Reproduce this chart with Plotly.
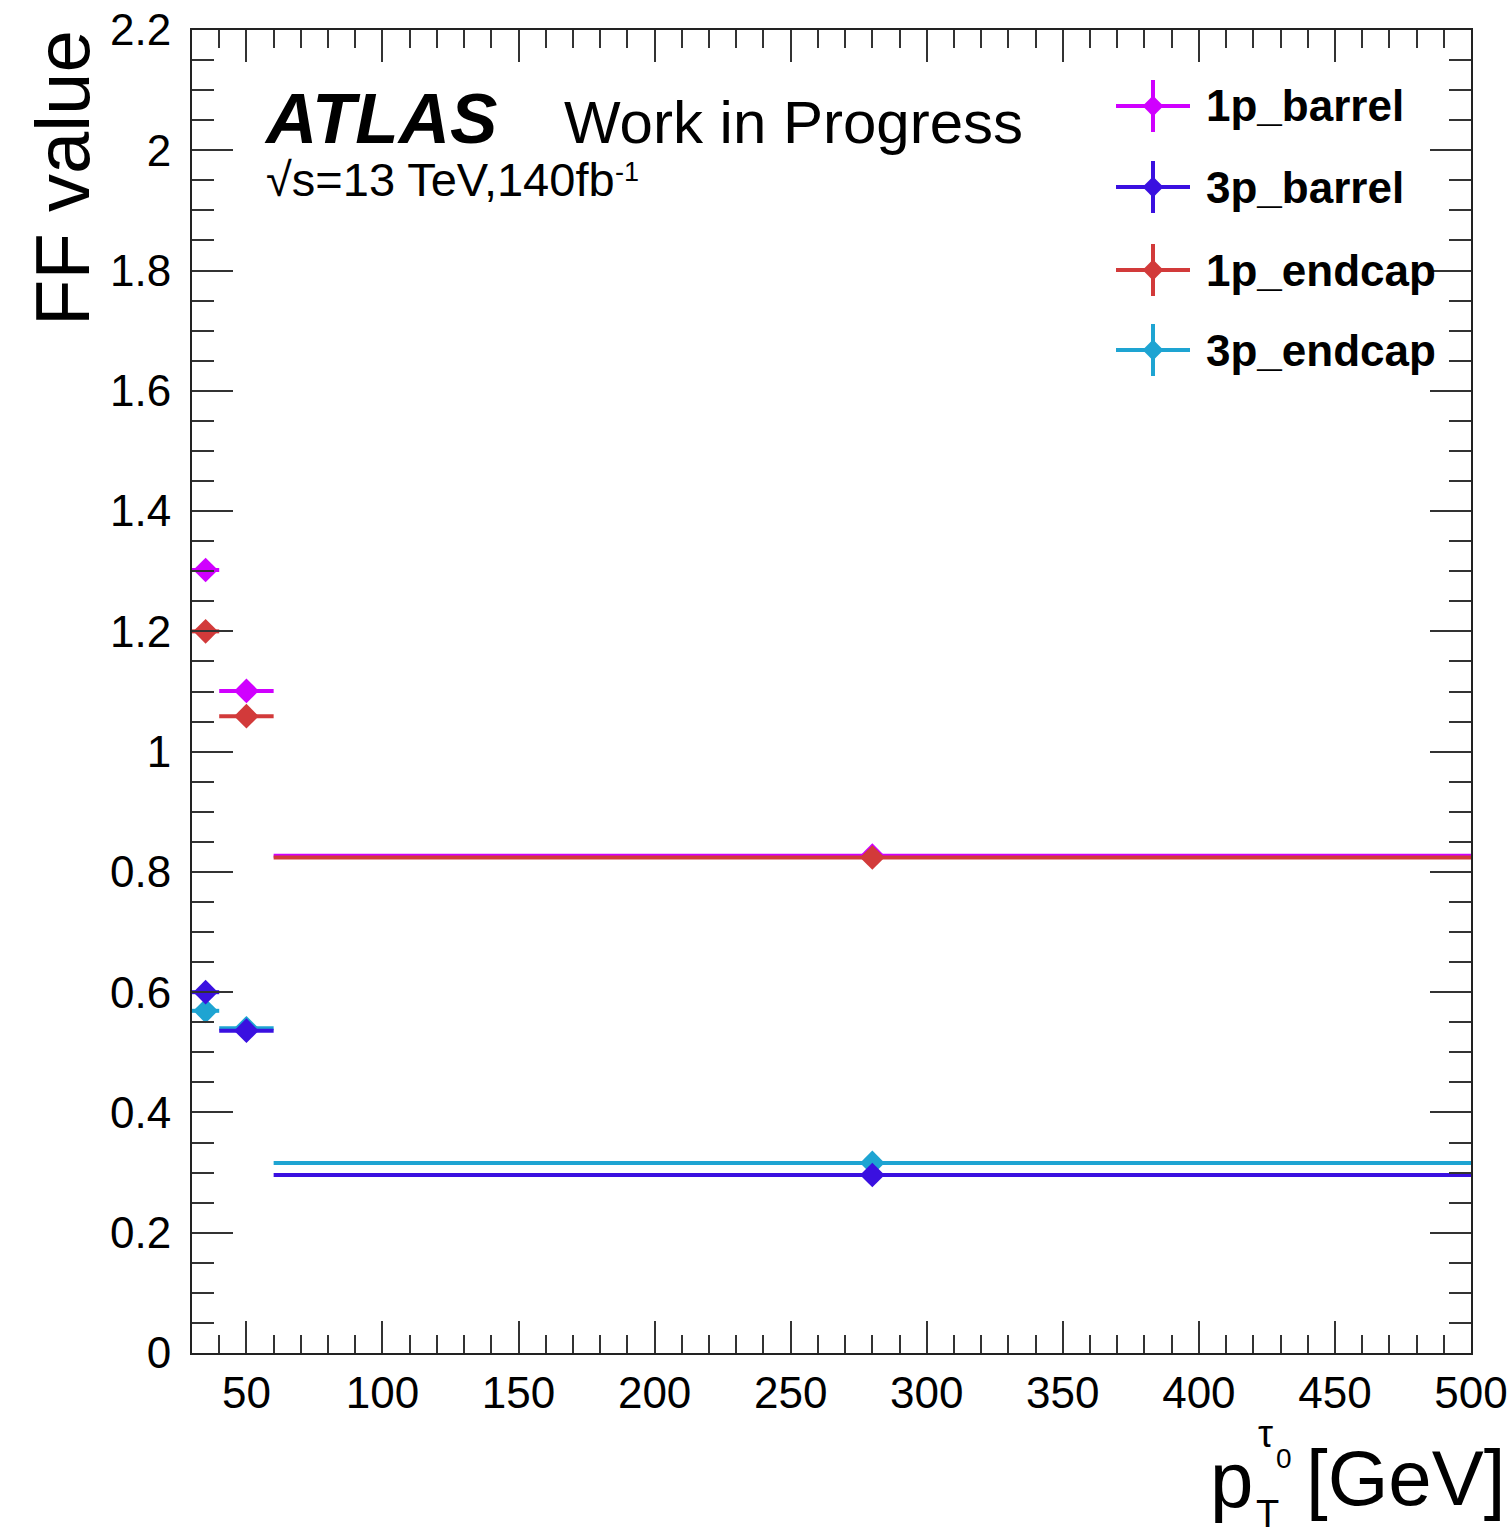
import plotly.graph_objects as go

# pT bins of the leading tau (GeV): centres and half-widths
bin_centers = [35, 50, 280]
bin_halfwidths = [5, 10, 220]

# Fake-factor values per category
ff_1p_barrel = [1.302, 1.101, 0.827]
ff_3p_barrel = [0.600, 0.536, 0.296]
ff_1p_endcap = [1.200, 1.059, 0.824]
ff_3p_endcap = [0.569, 0.540, 0.316]

series = [
    ("1p_barrel", ff_1p_barrel, "#d000ff"),
    ("3p_barrel", ff_3p_barrel, "#3a10e0"),
    ("1p_endcap", ff_1p_endcap, "#d23a3a"),
    ("3p_endcap", ff_3p_endcap, "#1ea4d2"),
]
draw_order = ["1p_barrel", "3p_endcap", "3p_barrel", "1p_endcap"]

W, H = 1511, 1539
L, R, T, B = 192, 1471, 30, 1353   # frame edges in pixels
FONT = "Liberation Sans"


def px(x):
    return (x - L) / (R - L)


def py(y):
    return (B - y) / (B - T)


fig = go.Figure()

lookup = {name: (vals, col) for name, vals, col in series}
for name in draw_order:
    vals, col = lookup[name]
    fig.add_trace(go.Scatter(
        x=bin_centers, y=vals, mode="markers", name=name,
        marker=dict(symbol="diamond", size=19, color=col),
        error_x=dict(type="data", array=bin_halfwidths, symmetric=True,
                     color=col, thickness=4, width=0),
        showlegend=False,
    ))

# Legend drawn as ROOT-style crosses on a pixel-space overlay axis
leg_rows = [106, 187, 270, 350]
for (name, vals, col), yrow in zip(series, leg_rows):
    fig.add_trace(go.Scatter(
        x=[1153], y=[yrow], mode="markers", xaxis="x2", yaxis="y2",
        marker=dict(symbol="diamond", size=16, color=col),
        error_x=dict(type="constant", value=37, color=col, thickness=4, width=0),
        error_y=dict(type="constant", value=26, color=col, thickness=4, width=0),
        showlegend=False, hoverinfo="skip",
    ))

annotations = []
for (name, vals, col), yrow in zip(series, leg_rows):
    annotations.append(dict(
        text=f"<b>{name}</b>", x=px(1204), y=py(yrow), xanchor="left", yanchor="middle",
        font=dict(family=FONT, size=44, color="black"),
    ))

annotations += [
    dict(text="<b><i>ATLAS</i></b>", x=px(262), y=py(118), xanchor="left", yanchor="middle",
         font=dict(family=FONT, size=71, color="black")),
    dict(text="Work in Progress", x=px(562), y=py(122), xanchor="left", yanchor="middle",
         font=dict(family=FONT, size=60, color="black")),
    dict(text="√s=13 TeV,140fb", x=px(264), y=py(179), xanchor="left", yanchor="middle",
         font=dict(family=FONT, size=47, color="black")),
    dict(text="-1", x=px(613), y=py(172), xanchor="left", yanchor="middle",
         font=dict(family=FONT, size=27, color="black")),
    # y-axis title
    dict(text="FF value", x=px(62), y=py(28), xanchor="center", yanchor="top", textangle=-90,
         font=dict(family=FONT, size=76, color="black")),
    # x-axis title: p_T^{tau_0} [GeV]
    dict(text="[GeV]", x=px(1507), y=py(1478), xanchor="right", yanchor="middle",
         font=dict(family=FONT, size=78, color="black")),
    dict(text="p", x=px(1255), y=py(1480), xanchor="right", yanchor="middle",
         font=dict(family=FONT, size=78, color="black")),
    dict(text="T", x=px(1267), y=py(1514), xanchor="center", yanchor="middle",
         font=dict(family=FONT, size=38, color="black")),
    dict(text="τ", x=px(1265), y=py(1434), xanchor="center", yanchor="middle",
         font=dict(family=FONT, size=38, color="black")),
    dict(text="0", x=px(1284), y=py(1458), xanchor="center", yanchor="middle",
         font=dict(family=FONT, size=28, color="black")),
]
for a in annotations:
    a.setdefault("xref", "paper")
    a.setdefault("yref", "paper")
    a.setdefault("showarrow", False)

axis_common = dict(
    showgrid=False, zeroline=False, showline=True, linecolor="#222", linewidth=2,
    mirror="allticks", ticks="inside", tickcolor="#333", tickwidth=2, automargin=False,
    tickfont=dict(family=FONT, size=44, color="black"),
)

fig.update_layout(
    width=W, height=H,
    margin=dict(l=L, r=W - R, t=T, b=H - B, pad=0, autoexpand=False),
    paper_bgcolor="white", plot_bgcolor="white",
    xaxis=dict(range=[30, 500], dtick=50, tick0=0, ticklen=32,
               minor=dict(dtick=10, tick0=0, ticks="inside", ticklen=18, tickcolor="#333", tickwidth=2),
               **axis_common),
    yaxis=dict(range=[0, 2.2], dtick=0.2, tick0=0, ticklen=41, ticklabelstandoff=10,
               minor=dict(dtick=0.05, tick0=0, ticks="inside", ticklen=22, tickcolor="#333", tickwidth=2),
               **axis_common),
    xaxis2=dict(overlaying="x", range=[L, R], visible=False),
    yaxis2=dict(overlaying="y", range=[B, T], visible=False),
    annotations=annotations,
    showlegend=False,
)

fig.write_html("out.html")
